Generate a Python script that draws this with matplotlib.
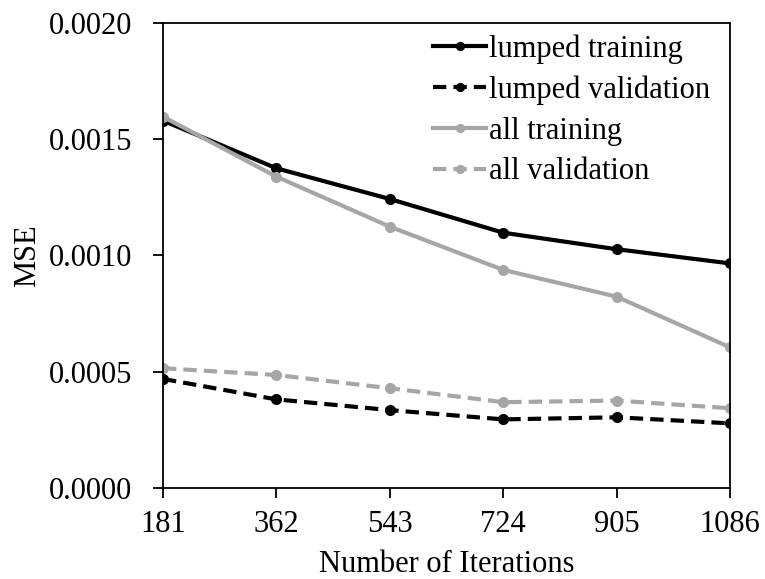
import numpy as np
import matplotlib.pyplot as plt

plt.rcParams['font.family'] = ['Liberation Serif', 'DejaVu Serif']

iterations = ['181', '362', '543', '724', '905', '1086']
lumped_training = [0.001580, 0.001375, 0.001243, 0.001098, 0.001027, 0.000966]
lumped_validation = [0.000469, 0.000381, 0.000335, 0.000295, 0.000304, 0.000278]
all_training = [0.001597, 0.001339, 0.001124, 0.000938, 0.000823, 0.000605]
all_validation = [0.000515, 0.000486, 0.000429, 0.000369, 0.000376, 0.000343]

gray = '#a6a6a6'
x = np.arange(len(iterations))

fig = plt.figure(figsize=(7.65, 5.79), dpi=100)
ax = fig.add_axes([0.2131, 0.1572, 0.7411, 0.8031])

dash = (3.2, 1.7)
kw = dict(lw=3.0, marker='o', ms=7)
ax.plot(x, lumped_training, color='black', label='lumped training', **kw)
ax.plot(x, lumped_validation, color='black', dashes=dash, label='lumped validation', **kw)
ax.plot(x, all_training, color=gray, label='all training', **kw)
ax.plot(x, all_validation, color=gray, dashes=dash, label='all validation', **kw)

ax.set_xlim(0, len(iterations) - 1)
ax.set_ylim(0, 0.002)
ax.set_xticks(x)
ax.set_xticklabels(iterations)
ax.set_yticks([0, 0.0005, 0.0010, 0.0015, 0.0020])
ax.set_yticklabels(['0.0000', '0.0005', '0.0010', '0.0015', '0.0020'])
ax.tick_params(direction='out', length=7, width=1.3, labelsize=22)
ax.tick_params(axis='y', pad=15)
ax.tick_params(axis='x', pad=9)
for s in ax.spines.values():
    s.set_linewidth(1.3)

ax.set_xlabel('Number of Iterations', fontsize=22, labelpad=8)
ax.set_ylabel('MSE', fontsize=22, labelpad=5)

ax.legend(loc='upper left', bbox_to_anchor=(433 / 765, 1 - 34 / 579), bbox_transform=fig.transFigure,
          frameon=False, fontsize=22, handlelength=1.75, handletextpad=0.08, labelspacing=0.385,
          borderpad=0, borderaxespad=0, markerscale=0.8)

fig.savefig('out.png', dpi=100)
